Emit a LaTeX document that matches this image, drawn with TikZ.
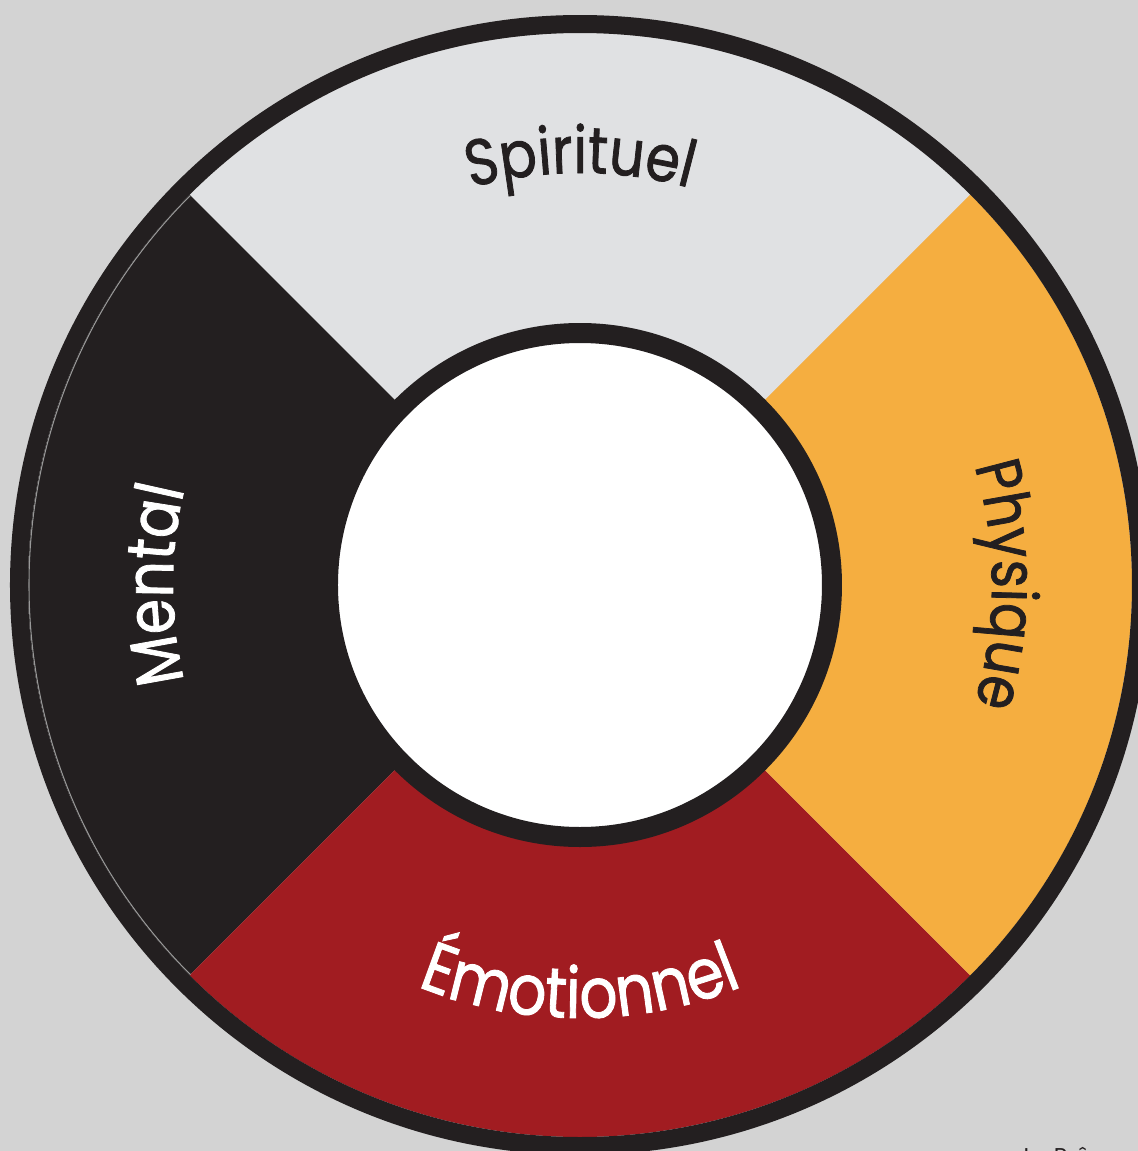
\documentclass[tikz,border=0pt]{standalone}
\usepackage{fontspec}
\setmainfont{Poppins}[FakeStretch=0.85,FakeBold=1.2]
\newfontfamily\whlsmall{Poppins}
\usetikzlibrary{decorations.text}
\definecolor{WhlInk}{HTML}{231F20}
\definecolor{WhlBack}{HTML}{D3D3D3}
\definecolor{WhlMist}{HTML}{E0E1E3}
\definecolor{WhlAmber}{HTML}{F5AE40}
\definecolor{WhlRed}{HTML}{A11C21}
\tikzset{
  whlsector/.style={fill=#1},
  whlhub/.style={
    circle,
    draw=WhlInk,
    fill=white,
    line width=0.2cm,
    inner sep=0pt,
    minimum size=5.04cm
  },
  whlword/.style={
    decorate,
    decoration={text along path,text align=center,text color=#1}
  }
}

\begin{document}
\begin{tikzpicture}
        \fill[WhlBack] (-5.80,-5.66) rectangle (5.58,5.85);
        \useasboundingbox (-5.80,-5.66) rectangle (5.58,5.85);
        % four quarters of the wheel
        \fill[whlsector=WhlMist] (0,0) -- (45:5.52) arc[start angle=45,end angle=135,radius=5.52] -- cycle;
        \fill[whlsector=WhlInk] (0,0) -- (135:5.52) arc[start angle=135,end angle=225,radius=5.52] -- cycle;
        \fill[whlsector=WhlRed] (0,0) -- (225:5.52) arc[start angle=225,end angle=315,radius=5.52] -- cycle;
        \fill[whlsector=WhlAmber] (0,0) -- (315:5.52) arc[start angle=315,end angle=405,radius=5.52] -- cycle;
        \draw[gray!80,line width=0.3pt] (135:5.51) arc[start angle=135,end angle=225,radius=5.51];
        \draw[WhlInk,line width=0.18cm] (0,0) circle (5.61);
        \node[whlhub] (hub) at (0,0) {};
        % labels on the ring
        \path[whlword=WhlInk,decoration={text={|\fontsize{18.5}{22}\selectfont|Spirituel}}]
          (115:4.12) arc[start angle=115,end angle=65,radius=4.12];
        \path[whlword=WhlInk,decoration={text={|\fontsize{18}{22}\selectfont|Physique}}]
          (25:4.12) arc[start angle=25,end angle=-25,radius=4.12];
        \path[whlword=white,decoration={text={|\fontsize{20}{24}\selectfont|Émotionnel}}]
          (235:4.33) arc[start angle=235,end angle=305,radius=4.33];
        \path[whlword=white,decoration={text={|\fontsize{19}{23}\selectfont|Mental}}]
          (205:4.07) arc[start angle=205,end angle=155,radius=4.07];
        \node[anchor=base west,inner sep=0pt,text=WhlInk,font=\whlsmall\fontsize{6.5}{8}\selectfont] (credit) at (4.43,-5.79) {Le Prê};
\end{tikzpicture}
\end{document}
